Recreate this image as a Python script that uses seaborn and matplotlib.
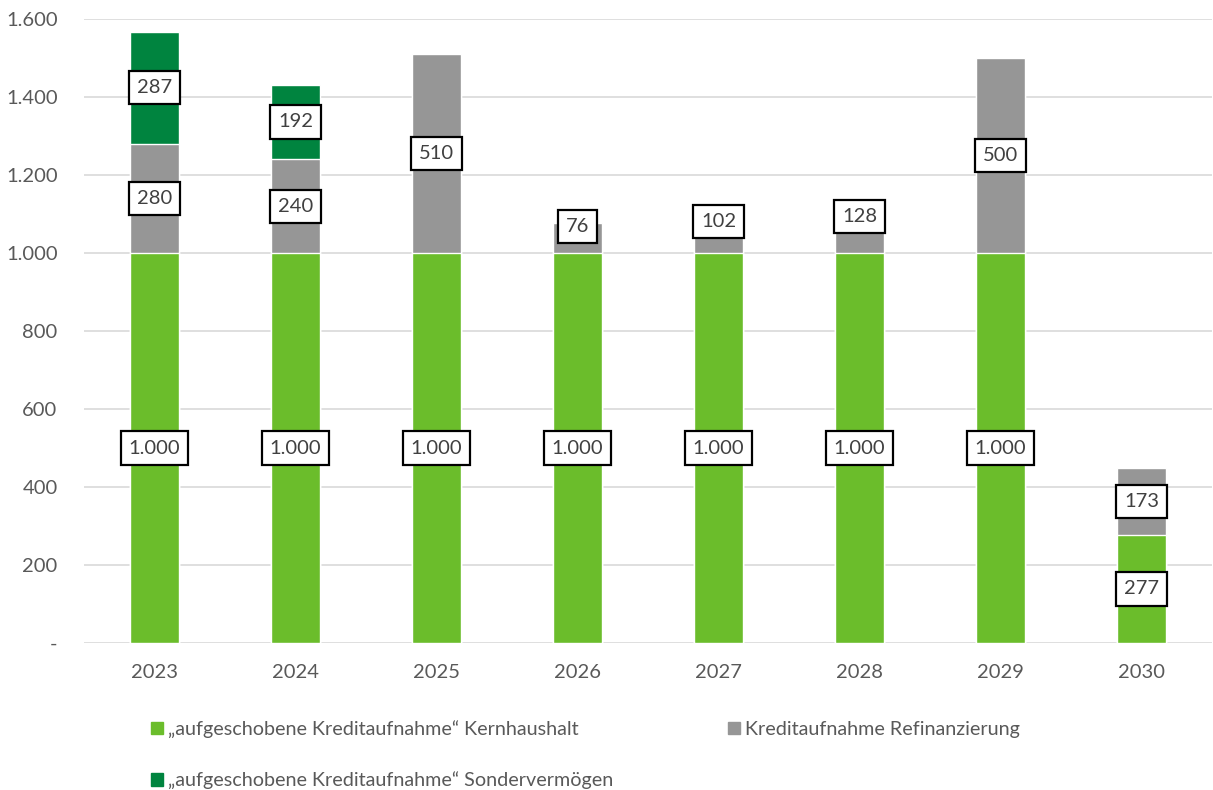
import matplotlib
matplotlib.use("Agg")
import matplotlib.pyplot as plt
import seaborn as sns
import pandas as pd
import numpy as np
from matplotlib.patches import Patch
from matplotlib.ticker import FuncFormatter

years = ["2023", "2024", "2025", "2026", "2027", "2028", "2029", "2030"]
kern = [1000, 1000, 1000, 1000, 1000, 1000, 1000, 277]
refi = [280, 240, 510, 76, 102, 128, 500, 173]
sonder = [287, 192, 0, 0, 0, 0, 0, 0]

labels = ["\u201eaufgeschobene Kreditaufnahme\u201c Kernhaushalt",
          "Kreditaufnahme Refinanzierung",
          "\u201eaufgeschobene Kreditaufnahme\u201c Sonderverm\u00f6gen"]
c_kern = "#6BBD2B"
c_refi = "#969696"
c_sonder = "#00843F"
txt = "#595959"

sns.set_theme(style="white")
plt.rcParams['font.family'] = ['Lato', 'DejaVu Sans']

df = pd.DataFrame({"year": years, "kern": kern, "refi": refi, "sonder": sonder})
df["t2"] = df["kern"] + df["refi"]
df["t3"] = df["t2"] + df["sonder"]

fig = plt.figure(figsize=(12.13, 7.9), dpi=100)
ax = fig.add_axes([84/1213, 1-643/790, 1128/1213, 624/790])

w = 0.35
sns.barplot(data=df, x="year", y="t3", color=c_sonder, width=w, ax=ax, saturation=1, zorder=2)
sns.barplot(data=df, x="year", y="t2", color=c_refi, width=w, ax=ax, saturation=1, zorder=3)
sns.barplot(data=df, x="year", y="kern", color=c_kern, width=w, ax=ax, saturation=1, zorder=4)

ax.set_ylim(0, 1600)
ax.set_xlim(-0.5, len(years) - 0.5)
ax.set_yticks(np.arange(0, 1601, 200))
ax.yaxis.set_major_formatter(FuncFormatter(lambda v, p: "-" if v == 0 else f"{int(v):,}".replace(",", ".")))
ax.grid(axis="y", color="#D9D9D9", linewidth=1.2, zorder=0)
ax.set_axisbelow(True)
for s in ax.spines.values():
    s.set_visible(False)
ax.set_xlabel("")
ax.set_ylabel("")
ax.tick_params(axis="both", colors=txt, labelsize=14.5, length=0)
ax.tick_params(axis="y", pad=19)
ax.tick_params(axis="x", pad=15)

def fmt(v):
    return f"{int(v):,}".replace(",", ".")

bbox = dict(boxstyle="square,pad=0.4", facecolor="white", edgecolor="black", linewidth=1.6)
for i in range(len(years)):
    bottoms = [0, kern[i], kern[i] + refi[i]]
    for b, v in zip(bottoms, [kern[i], refi[i], sonder[i]]):
        if v > 0:
            y = b + v / 2
            if v < 150:
                y += 30
            ax.text(i, y, fmt(v), ha="center", va="center", fontsize=14.5,
                    color="#404040", bbox=bbox, zorder=10)

handles = [Patch(color=c_kern), Patch(color=c_sonder), Patch(color=c_refi)]
hl = [labels[0], labels[2], labels[1]]
leg = fig.legend(handles, hl, ncol=2, loc="upper left", bbox_to_anchor=(143/1213, 1-712/790),
                 frameon=False, fontsize=14.25, handlelength=0.6, handleheight=0.6,
                 handletextpad=0.25, columnspacing=5.8, labelspacing=1.7, borderaxespad=0)
for t in leg.get_texts():
    t.set_color(txt)

fig.savefig("out.png", dpi=100)
